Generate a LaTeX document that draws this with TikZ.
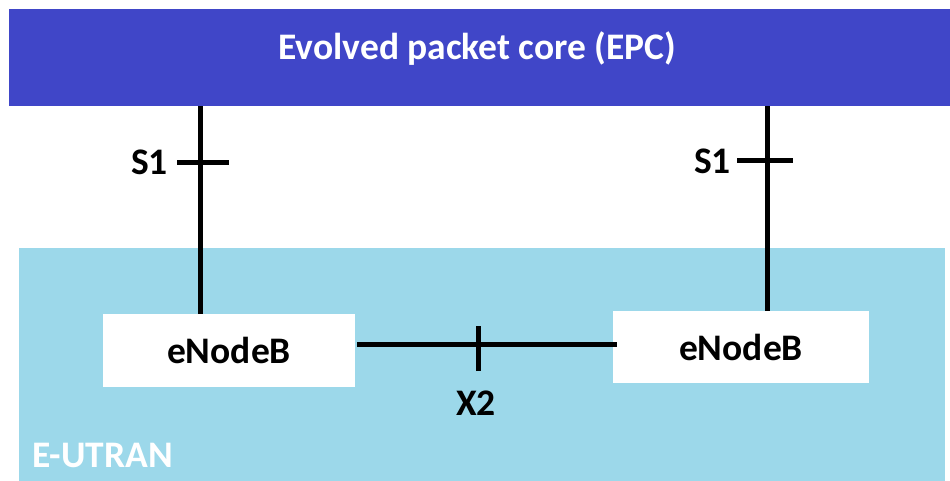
\documentclass[tikz,border=0pt]{standalone}
\usepackage{fontspec}
\setmainfont{Carlito}
\usepackage{tikz}
\usetikzlibrary{positioning}
\usepackage{xcolor}
\definecolor{epcblue}{RGB}{64,70,200}
\definecolor{utranblue}{RGB}{156,216,234}

\begin{document}
\begin{tikzpicture}[x=1pt, y=-1pt,
    font=\fontsize{37.5}{45}\selectfont\bfseries,
    enb/.style={rectangle, fill=white, minimum width=252pt, minimum height=73pt, inner sep=0pt},
    link/.style={line width=5pt}]
        \useasboundingbox (0,0) rectangle (950,481);

        % Core and access areas
        \node[fill=epcblue, minimum width=941pt, minimum height=97pt, inner sep=0pt] (epc) at (479.5,57.5) {};
        \node[text=white] (epclabel) at (477.5,48.5) {Evolved packet core (EPC)};

        \node[fill=utranblue, minimum width=926pt, minimum height=233pt, inner sep=0pt] (utran) at (482,364.5) {};
        \node[text=white, anchor=west, inner sep=0pt] (utranlabel) at (32,455.5) {E-UTRAN};

        % Base stations
        \node[enb] (enbA) at (229,350.5) {eNodeB};
        \node[enb, minimum width=256pt, minimum height=72pt] (enbB) at (741,347) {eNodeB};

        % S1 interfaces
        \coordinate (s1A) at (200,163);
        \coordinate (s1B) at (767,161);
        \draw[link] (s1A |- epc.south) -- (s1A |- enbA.north);
        \draw[link] (s1B |- epc.south) -- (s1B |- enbB.north);
        \draw[link] ([xshift=-23pt]s1A) -- ([xshift=29pt]s1A);
        \draw[link] ([xshift=-30pt]s1B) -- ([xshift=26pt]s1B);
        \node[anchor=east, inner sep=0pt] (s1Alabel) at (168,162) {S1};
        \node[anchor=east, inner sep=0pt] (s1Blabel) at (731,161) {S1};

        % X2 interface
        \coordinate (x2) at (478,344);
        \draw[link] ([xshift=2pt]x2 -| enbA.east) -- ([xshift=4pt]x2 -| enbB.west);
        \draw[link] ([yshift=-27pt]x2) -- ([yshift=18pt]x2);
        \node (x2label) at (476,403.5) {X2};
    \end{tikzpicture}
\end{document}
